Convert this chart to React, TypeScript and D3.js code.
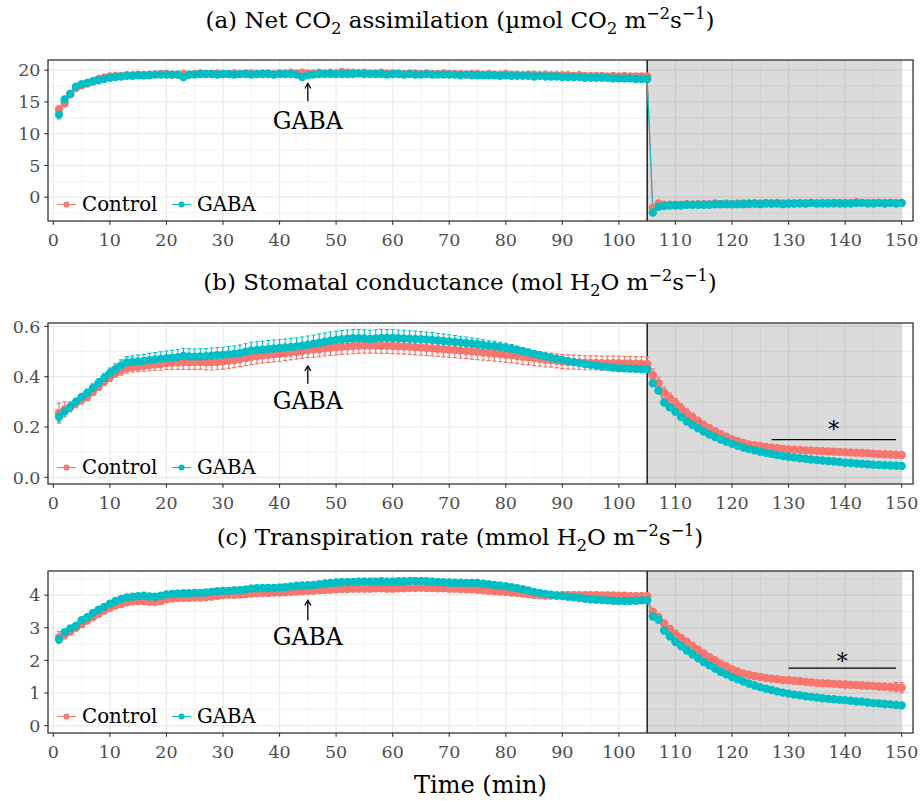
import React from "react";
import * as d3 from "d3";

// ---- time axis (minutes) ----
const minutes: number[] = d3.range(1, 151);
const xTicks = [0, 10, 20, 30, 40, 50, 60, 70, 80, 90, 100, 110, 120, 130, 140, 150];
const groups = ["Control", "GABA"];
const groupColors = ["#F8766D", "#00BFC4"];
const darkStart = 105;
const darkEnd = 150;
const gabaTime = 45;

// ---- (a) net CO2 assimilation ----
const co2Control = [
  13.8, 14.8, 16.2, 17.2, 17.6, 17.9, 18.3, 18.6, 18.8, 19.0,
  19.1, 19.1, 19.2, 19.2, 19.3, 19.2, 19.3, 19.3, 19.4, 19.4,
  19.3, 19.3, 19.4, 19.3, 19.4, 19.5, 19.4, 19.4, 19.5, 19.4,
  19.4, 19.5, 19.4, 19.5, 19.5, 19.4, 19.5, 19.5, 19.4, 19.5,
  19.5, 19.6, 19.5, 19.6, 19.5, 19.5, 19.6, 19.5, 19.6, 19.5,
  19.7, 19.6, 19.6, 19.5, 19.6, 19.5, 19.5, 19.6, 19.5, 19.5,
  19.5, 19.4, 19.5, 19.5, 19.4, 19.5, 19.4, 19.4, 19.5, 19.4,
  19.4, 19.4, 19.3, 19.4, 19.4, 19.3, 19.4, 19.3, 19.3, 19.4,
  19.3, 19.3, 19.2, 19.3, 19.3, 19.2, 19.3, 19.2, 19.2, 19.2,
  19.2, 19.1, 19.2, 19.1, 19.1, 19.1, 19.1, 19.0, 19.1, 19.0,
  19.1, 19.0, 19.0, 19.0, 19.0, -1.6, -1.0, -1.2, -1.2, -1.2,
  -1.2, -1.1, -1.2, -1.1, -1.1, -1.1, -1.0, -1.1, -1.0, -1.1,
  -1.0, -1.0, -1.1, -1.0, -1.0, -0.9, -1.0, -0.9, -1.0, -1.0,
  -1.0, -0.9, -1.0, -0.9, -1.0, -0.9, -0.9, -1.0, -0.9, -0.9,
  -0.9, -0.8, -0.9, -0.9, -0.9, -0.9, -0.9, -0.9, -0.9, -0.9,
];
const co2ControlSe = [
  0.6, 0.5, 0.4, 0.35, 0.3, 0.3, 0.3, 0.3, 0.3, 0.3,
  0.3, 0.3, 0.3, 0.3, 0.3, 0.3, 0.3, 0.3, 0.3, 0.3,
  0.3, 0.3, 0.35, 0.3, 0.3, 0.3, 0.3, 0.3, 0.3, 0.3,
  0.3, 0.3, 0.3, 0.3, 0.3, 0.3, 0.3, 0.3, 0.3, 0.3,
  0.3, 0.3, 0.3, 0.3, 0.3, 0.3, 0.3, 0.3, 0.3, 0.3,
  0.35, 0.3, 0.3, 0.3, 0.3, 0.3, 0.3, 0.3, 0.3, 0.3,
  0.3, 0.3, 0.3, 0.3, 0.3, 0.3, 0.3, 0.3, 0.3, 0.3,
  0.3, 0.3, 0.3, 0.3, 0.3, 0.3, 0.3, 0.3, 0.3, 0.3,
  0.3, 0.3, 0.3, 0.3, 0.3, 0.3, 0.3, 0.3, 0.3, 0.3,
  0.3, 0.3, 0.3, 0.3, 0.3, 0.3, 0.3, 0.3, 0.3, 0.3,
  0.3, 0.3, 0.3, 0.3, 0.3, 0.3, 0.2, 0.2, 0.2, 0.2,
  0.2, 0.2, 0.2, 0.2, 0.2, 0.2, 0.2, 0.2, 0.2, 0.2,
  0.2, 0.2, 0.2, 0.2, 0.2, 0.2, 0.2, 0.2, 0.2, 0.2,
  0.2, 0.2, 0.2, 0.2, 0.2, 0.2, 0.2, 0.2, 0.2, 0.2,
  0.2, 0.2, 0.2, 0.2, 0.2, 0.2, 0.2, 0.2, 0.2, 0.2,
];
const co2Gaba = [
  13.0, 15.4, 16.3, 17.4, 17.8, 18.0, 18.2, 18.4, 18.6, 18.8,
  18.9, 19.0, 19.1, 19.1, 19.2, 19.2, 19.2, 19.3, 19.3, 19.3,
  19.3, 19.3, 18.9, 19.3, 19.3, 19.4, 19.4, 19.4, 19.3, 19.4,
  19.4, 19.3, 19.4, 19.4, 19.3, 19.4, 19.4, 19.4, 19.3, 19.4,
  19.4, 19.4, 19.3, 18.9, 19.2, 19.3, 19.4, 19.4, 19.4, 19.4,
  19.4, 19.4, 19.4, 19.5, 19.4, 19.4, 19.4, 19.4, 19.3, 19.4,
  19.4, 19.3, 19.4, 19.3, 19.3, 19.4, 19.3, 19.3, 19.3, 19.3,
  19.3, 19.2, 19.3, 19.2, 19.2, 19.2, 19.2, 19.2, 19.1, 19.2,
  19.1, 19.1, 19.1, 19.1, 19.0, 19.1, 19.0, 19.0, 19.0, 18.9,
  18.9, 18.9, 18.9, 18.8, 18.8, 18.8, 18.8, 18.8, 18.7, 18.7,
  18.7, 18.7, 18.6, 18.6, 18.6, -2.4, -1.5, -1.4, -1.3, -1.3,
  -1.3, -1.2, -1.2, -1.2, -1.2, -1.2, -1.1, -1.1, -1.1, -1.1,
  -1.1, -1.1, -1.0, -1.0, -1.1, -1.0, -1.0, -1.0, -1.1, -1.0,
  -1.0, -1.0, -1.0, -0.9, -1.0, -1.0, -1.0, -0.9, -1.0, -1.0,
  -1.0, -0.9, -0.9, -1.0, -1.0, -0.9, -1.0, -0.9, -1.0, -0.9,
];
const co2GabaSe = [
  0.7, 0.5, 0.4, 0.3, 0.3, 0.3, 0.25, 0.25, 0.25, 0.25,
  0.25, 0.25, 0.25, 0.25, 0.25, 0.25, 0.25, 0.25, 0.25, 0.25,
  0.25, 0.25, 0.3, 0.25, 0.25, 0.25, 0.25, 0.25, 0.25, 0.25,
  0.25, 0.25, 0.25, 0.25, 0.25, 0.25, 0.25, 0.25, 0.25, 0.25,
  0.25, 0.25, 0.25, 0.3, 0.25, 0.25, 0.25, 0.25, 0.25, 0.25,
  0.25, 0.25, 0.25, 0.25, 0.25, 0.25, 0.25, 0.25, 0.25, 0.25,
  0.25, 0.25, 0.25, 0.25, 0.25, 0.25, 0.25, 0.25, 0.25, 0.25,
  0.25, 0.25, 0.25, 0.25, 0.25, 0.25, 0.25, 0.25, 0.25, 0.25,
  0.25, 0.25, 0.25, 0.25, 0.25, 0.25, 0.25, 0.25, 0.25, 0.25,
  0.25, 0.25, 0.25, 0.25, 0.25, 0.25, 0.25, 0.25, 0.25, 0.25,
  0.25, 0.25, 0.25, 0.25, 0.25, 0.3, 0.2, 0.15, 0.15, 0.15,
  0.15, 0.15, 0.15, 0.15, 0.15, 0.15, 0.15, 0.15, 0.15, 0.15,
  0.15, 0.15, 0.15, 0.15, 0.15, 0.15, 0.15, 0.15, 0.15, 0.15,
  0.15, 0.15, 0.15, 0.15, 0.15, 0.15, 0.15, 0.15, 0.15, 0.15,
  0.15, 0.15, 0.15, 0.15, 0.15, 0.15, 0.15, 0.15, 0.15, 0.15,
];

// ---- (b) stomatal conductance ----
const gsControl = [
  0.255, 0.27, 0.28, 0.295, 0.308, 0.32, 0.34, 0.36, 0.38, 0.398,
  0.415, 0.425, 0.434, 0.438, 0.44, 0.443, 0.446, 0.448, 0.45, 0.454,
  0.455, 0.456, 0.457, 0.457, 0.458, 0.458, 0.457, 0.457, 0.458, 0.46,
  0.463, 0.466, 0.47, 0.474, 0.478, 0.481, 0.484, 0.487, 0.489, 0.491,
  0.494, 0.497, 0.5, 0.503, 0.506, 0.508, 0.51, 0.513, 0.515, 0.517,
  0.519, 0.52, 0.522, 0.523, 0.524, 0.524, 0.524, 0.523, 0.523, 0.522,
  0.521, 0.52, 0.519, 0.517, 0.516, 0.514, 0.513, 0.511, 0.509, 0.507,
  0.506, 0.504, 0.502, 0.5, 0.498, 0.496, 0.494, 0.492, 0.49, 0.487,
  0.485, 0.482, 0.479, 0.477, 0.474, 0.471, 0.468, 0.466, 0.463, 0.46,
  0.459, 0.458, 0.457, 0.456, 0.455, 0.455, 0.454, 0.454, 0.454, 0.454,
  0.453, 0.453, 0.452, 0.452, 0.451, 0.406, 0.374, 0.337, 0.315, 0.295,
  0.274, 0.255, 0.24, 0.224, 0.208, 0.195, 0.183, 0.171, 0.161, 0.151,
  0.144, 0.137, 0.131, 0.128, 0.125, 0.121, 0.118, 0.116, 0.113, 0.111,
  0.11, 0.109, 0.107, 0.106, 0.105, 0.104, 0.103, 0.102, 0.101, 0.1,
  0.099, 0.098, 0.097, 0.096, 0.094, 0.093, 0.092, 0.091, 0.09, 0.089,
];
const gsControlSe = [
  0.04, 0.03, 0.02, 0.018, 0.016, 0.015, 0.015, 0.015, 0.016, 0.017,
  0.018, 0.019, 0.02, 0.02, 0.02, 0.021, 0.022, 0.023, 0.024, 0.025,
  0.026, 0.027, 0.028, 0.028, 0.029, 0.029, 0.03, 0.03, 0.03, 0.03,
  0.03, 0.03, 0.03, 0.03, 0.03, 0.03, 0.03, 0.03, 0.03, 0.03,
  0.03, 0.03, 0.03, 0.03, 0.03, 0.03, 0.03, 0.03, 0.03, 0.03,
  0.03, 0.03, 0.03, 0.03, 0.03, 0.03, 0.03, 0.03, 0.03, 0.03,
  0.03, 0.03, 0.03, 0.03, 0.03, 0.03, 0.03, 0.03, 0.03, 0.03,
  0.03, 0.03, 0.03, 0.03, 0.03, 0.03, 0.03, 0.03, 0.03, 0.03,
  0.03, 0.03, 0.03, 0.03, 0.03, 0.029, 0.029, 0.028, 0.028, 0.028,
  0.028, 0.028, 0.028, 0.028, 0.028, 0.028, 0.028, 0.028, 0.028, 0.028,
  0.028, 0.028, 0.028, 0.028, 0.028, 0.025, 0.024, 0.022, 0.02, 0.019,
  0.018, 0.017, 0.016, 0.015, 0.015, 0.014, 0.013, 0.012, 0.012, 0.011,
  0.011, 0.01, 0.01, 0.01, 0.009, 0.009, 0.009, 0.009, 0.008, 0.008,
  0.008, 0.008, 0.008, 0.008, 0.008, 0.008, 0.008, 0.008, 0.008, 0.008,
  0.008, 0.008, 0.008, 0.008, 0.008, 0.008, 0.008, 0.008, 0.009, 0.01,
];
const gsGaba = [
  0.241, 0.262, 0.28, 0.3, 0.319, 0.335, 0.355, 0.375, 0.395, 0.414,
  0.43, 0.445, 0.457, 0.459, 0.461, 0.463, 0.466, 0.469, 0.471, 0.474,
  0.476, 0.478, 0.483, 0.481, 0.48, 0.481, 0.482, 0.484, 0.486, 0.487,
  0.489, 0.491, 0.494, 0.499, 0.504, 0.506, 0.508, 0.51, 0.512, 0.514,
  0.516, 0.518, 0.52, 0.523, 0.527, 0.531, 0.535, 0.539, 0.543, 0.546,
  0.549, 0.551, 0.553, 0.553, 0.552, 0.55, 0.552, 0.554, 0.554, 0.554,
  0.553, 0.552, 0.551, 0.55, 0.549, 0.548, 0.546, 0.544, 0.542, 0.54,
  0.538, 0.536, 0.534, 0.531, 0.529, 0.526, 0.523, 0.521, 0.518, 0.515,
  0.511, 0.506, 0.501, 0.496, 0.491, 0.486, 0.481, 0.476, 0.471, 0.467,
  0.462, 0.458, 0.454, 0.45, 0.447, 0.444, 0.441, 0.439, 0.436, 0.434,
  0.433, 0.432, 0.431, 0.43, 0.43, 0.374, 0.345, 0.297, 0.278, 0.261,
  0.24, 0.222, 0.208, 0.195, 0.182, 0.17, 0.16, 0.15, 0.141, 0.133,
  0.125, 0.118, 0.112, 0.107, 0.102, 0.097, 0.093, 0.089, 0.085, 0.082,
  0.079, 0.076, 0.074, 0.071, 0.069, 0.067, 0.065, 0.063, 0.061, 0.058,
  0.057, 0.055, 0.054, 0.052, 0.05, 0.049, 0.048, 0.047, 0.046, 0.045,
];
const gsGabaSe = [
  0.02, 0.018, 0.016, 0.015, 0.015, 0.016, 0.017, 0.018, 0.019, 0.02,
  0.021, 0.022, 0.023, 0.024, 0.025, 0.026, 0.027, 0.027, 0.028, 0.028,
  0.029, 0.029, 0.03, 0.03, 0.03, 0.03, 0.03, 0.03, 0.03, 0.03,
  0.031, 0.031, 0.032, 0.032, 0.033, 0.033, 0.033, 0.034, 0.034, 0.034,
  0.034, 0.035, 0.035, 0.035, 0.035, 0.035, 0.035, 0.035, 0.035, 0.035,
  0.035, 0.035, 0.035, 0.035, 0.035, 0.035, 0.035, 0.035, 0.034, 0.034,
  0.033, 0.033, 0.032, 0.032, 0.031, 0.03, 0.03, 0.029, 0.028, 0.027,
  0.026, 0.025, 0.024, 0.023, 0.022, 0.021, 0.02, 0.02, 0.019, 0.018,
  0.017, 0.016, 0.015, 0.014, 0.013, 0.012, 0.012, 0.011, 0.011, 0.01,
  0.01, 0.01, 0.01, 0.01, 0.01, 0.01, 0.01, 0.01, 0.01, 0.01,
  0.01, 0.01, 0.01, 0.01, 0.01, 0.012, 0.012, 0.012, 0.012, 0.012,
  0.011, 0.011, 0.01, 0.01, 0.01, 0.009, 0.009, 0.008, 0.008, 0.008,
  0.007, 0.007, 0.007, 0.006, 0.006, 0.006, 0.006, 0.006, 0.006, 0.006,
  0.005, 0.005, 0.005, 0.005, 0.005, 0.005, 0.005, 0.005, 0.005, 0.005,
  0.005, 0.005, 0.005, 0.005, 0.005, 0.005, 0.005, 0.005, 0.005, 0.005,
];

// ---- (c) transpiration rate ----
const eControl = [
  2.7, 2.78, 2.88, 3.0, 3.11, 3.22, 3.33, 3.43, 3.53, 3.61,
  3.68, 3.73, 3.78, 3.81, 3.82, 3.82, 3.8, 3.79, 3.82, 3.87,
  3.9, 3.91, 3.92, 3.92, 3.93, 3.93, 3.94, 3.96, 3.98, 4.0,
  4.01, 4.01, 4.02, 4.03, 4.05, 4.06, 4.07, 4.07, 4.08, 4.08,
  4.09, 4.1, 4.11, 4.12, 4.13, 4.14, 4.15, 4.16, 4.17, 4.18,
  4.19, 4.19, 4.2, 4.2, 4.2, 4.2, 4.21, 4.21, 4.2, 4.2,
  4.21, 4.21, 4.22, 4.22, 4.23, 4.22, 4.22, 4.21, 4.21, 4.2,
  4.2, 4.19, 4.18, 4.18, 4.17, 4.15, 4.14, 4.12, 4.11, 4.1,
  4.08, 4.07, 4.05, 4.03, 4.01, 4.0, 3.99, 3.99, 3.99, 4.0,
  4.0, 4.0, 4.0, 4.0, 4.0, 4.0, 3.99, 3.99, 3.99, 3.98,
  3.98, 3.97, 3.97, 3.97, 3.97, 3.49, 3.33, 3.13, 2.96, 2.82,
  2.69, 2.57, 2.45, 2.33, 2.21, 2.1, 2.0, 1.9, 1.81, 1.72,
  1.66, 1.6, 1.56, 1.52, 1.49, 1.46, 1.44, 1.42, 1.4, 1.39,
  1.37, 1.36, 1.34, 1.33, 1.31, 1.3, 1.29, 1.28, 1.27, 1.26,
  1.25, 1.24, 1.23, 1.22, 1.21, 1.2, 1.19, 1.18, 1.18, 1.17,
];
const eControlSe = [
  0.18, 0.12, 0.09, 0.09, 0.09, 0.09, 0.09, 0.09, 0.09, 0.09,
  0.09, 0.09, 0.09, 0.09, 0.09, 0.09, 0.09, 0.09, 0.09, 0.09,
  0.1, 0.1, 0.1, 0.1, 0.1, 0.1, 0.1, 0.1, 0.1, 0.1,
  0.1, 0.1, 0.1, 0.1, 0.1, 0.1, 0.1, 0.1, 0.1, 0.1,
  0.1, 0.1, 0.1, 0.1, 0.1, 0.1, 0.1, 0.1, 0.1, 0.1,
  0.1, 0.1, 0.1, 0.1, 0.1, 0.1, 0.1, 0.1, 0.1, 0.1,
  0.1, 0.1, 0.1, 0.1, 0.1, 0.1, 0.1, 0.1, 0.1, 0.1,
  0.1, 0.1, 0.1, 0.1, 0.1, 0.1, 0.1, 0.1, 0.1, 0.1,
  0.1, 0.1, 0.1, 0.1, 0.1, 0.1, 0.1, 0.1, 0.1, 0.1,
  0.1, 0.1, 0.1, 0.1, 0.1, 0.1, 0.1, 0.1, 0.1, 0.1,
  0.1, 0.1, 0.1, 0.1, 0.1, 0.1, 0.1, 0.1, 0.1, 0.1,
  0.1, 0.1, 0.1, 0.1, 0.1, 0.1, 0.1, 0.1, 0.1, 0.1,
  0.09, 0.09, 0.09, 0.09, 0.09, 0.09, 0.09, 0.09, 0.09, 0.09,
  0.09, 0.09, 0.09, 0.09, 0.09, 0.09, 0.09, 0.09, 0.09, 0.1,
  0.1, 0.1, 0.1, 0.1, 0.1, 0.1, 0.11, 0.12, 0.14, 0.16,
];
const eGaba = [
  2.65, 2.86, 2.98, 3.06, 3.23, 3.32, 3.45, 3.55, 3.64, 3.74,
  3.82, 3.88, 3.93, 3.95, 3.97, 3.98, 3.96, 3.95, 3.98, 4.02,
  4.04, 4.05, 4.06, 4.06, 4.07, 4.07, 4.08, 4.1, 4.12, 4.13,
  4.13, 4.14, 4.15, 4.17, 4.2, 4.21, 4.22, 4.22, 4.22, 4.23,
  4.24, 4.26, 4.28, 4.29, 4.3, 4.31, 4.33, 4.35, 4.37, 4.38,
  4.39, 4.4, 4.4, 4.41, 4.41, 4.41, 4.41, 4.42, 4.41, 4.41,
  4.42, 4.42, 4.43, 4.43, 4.43, 4.42, 4.41, 4.4, 4.39, 4.38,
  4.38, 4.38, 4.37, 4.37, 4.37, 4.35, 4.33, 4.31, 4.29, 4.27,
  4.24, 4.21, 4.18, 4.14, 4.1, 4.07, 4.04, 4.01, 3.99, 3.97,
  3.95, 3.93, 3.91, 3.89, 3.87, 3.86, 3.85, 3.84, 3.83, 3.82,
  3.82, 3.82, 3.83, 3.84, 3.84, 3.35, 3.25, 2.92, 2.74, 2.57,
  2.44, 2.31, 2.19, 2.07, 1.95, 1.85, 1.75, 1.65, 1.57, 1.49,
  1.42, 1.35, 1.29, 1.23, 1.18, 1.13, 1.09, 1.05, 1.01, 0.98,
  0.95, 0.93, 0.9, 0.88, 0.86, 0.84, 0.82, 0.81, 0.79, 0.78,
  0.76, 0.74, 0.73, 0.71, 0.69, 0.68, 0.66, 0.65, 0.63, 0.62,
];
const eGabaSe = [
  0.1, 0.08, 0.07, 0.07, 0.07, 0.07, 0.07, 0.07, 0.07, 0.07,
  0.08, 0.08, 0.08, 0.08, 0.08, 0.08, 0.08, 0.08, 0.08, 0.08,
  0.09, 0.09, 0.09, 0.09, 0.09, 0.09, 0.09, 0.09, 0.09, 0.09,
  0.1, 0.1, 0.1, 0.1, 0.1, 0.1, 0.1, 0.1, 0.1, 0.1,
  0.11, 0.11, 0.11, 0.11, 0.11, 0.11, 0.11, 0.11, 0.11, 0.11,
  0.11, 0.11, 0.11, 0.11, 0.11, 0.11, 0.11, 0.11, 0.11, 0.11,
  0.11, 0.11, 0.11, 0.11, 0.11, 0.11, 0.11, 0.11, 0.11, 0.11,
  0.1, 0.1, 0.1, 0.1, 0.1, 0.1, 0.1, 0.1, 0.1, 0.1,
  0.09, 0.09, 0.08, 0.08, 0.07, 0.07, 0.07, 0.06, 0.06, 0.06,
  0.06, 0.06, 0.06, 0.06, 0.06, 0.06, 0.06, 0.06, 0.06, 0.06,
  0.06, 0.06, 0.06, 0.06, 0.06, 0.1, 0.1, 0.11, 0.11, 0.11,
  0.11, 0.11, 0.11, 0.11, 0.1, 0.1, 0.1, 0.1, 0.09, 0.09,
  0.08, 0.08, 0.07, 0.07, 0.06, 0.06, 0.05, 0.05, 0.05, 0.05,
  0.04, 0.04, 0.04, 0.04, 0.04, 0.04, 0.04, 0.04, 0.04, 0.04,
  0.04, 0.04, 0.04, 0.04, 0.04, 0.04, 0.04, 0.04, 0.04, 0.04,
];

// ---- layout ----
const W = 920;
const H = 801;
const FONT = "'DejaVu Serif', 'Liberation Serif', serif";
const plotLeft = 48;
const plotRight = 913;
const xDomain: [number, number] = [-0.94, 152];

type Part = { t: string; k?: "sub" | "sup" };

type PanelSpec = {
  title: Part[];
  titleY: number;
  top: number;
  bottom: number;
  yDomain: [number, number];
  yTicks: number[];
  yMinor: number[];
  yFormat: (v: number) => string;
  control: number[];
  controlSe: number[];
  gaba: number[];
  gabaSe: number[];
  arrow: { head: number; tail: number; label: number };
  star?: { x1: number; x2: number; y: number; starY: number };
};

const panels: PanelSpec[] = [
  {
    title: [
      { t: "(a) Net CO" }, { t: "2", k: "sub" }, { t: " assimilation (µmol CO" }, { t: "2", k: "sub" },
      { t: " m" }, { t: "−2", k: "sup" }, { t: "s" }, { t: "−1", k: "sup" }, { t: ")" },
    ],
    titleY: 28,
    top: 60,
    bottom: 221,
    yDomain: [-3.75, 21.6],
    yTicks: [0, 5, 10, 15, 20],
    yMinor: [-2.5, 2.5, 7.5, 12.5, 17.5],
    yFormat: (v) => String(v),
    control: co2Control,
    controlSe: co2ControlSe,
    gaba: co2Gaba,
    gabaSe: co2GabaSe,
    arrow: { head: 17.9, tail: 15.1, label: 12.1 },
  },
  {
    title: [
      { t: "(b) Stomatal conductance (mol H" }, { t: "2", k: "sub" }, { t: "O m" },
      { t: "−2", k: "sup" }, { t: "s" }, { t: "−1", k: "sup" }, { t: ")" },
    ],
    titleY: 290,
    top: 323,
    bottom: 484,
    yDomain: [-0.0266, 0.6136],
    yTicks: [0, 0.2, 0.4, 0.6],
    yMinor: [0.1, 0.3, 0.5],
    yFormat: (v) => v.toFixed(1),
    control: gsControl,
    controlSe: gsControlSe,
    gaba: gsGaba,
    gabaSe: gsGabaSe,
    arrow: { head: 0.443, tail: 0.372, label: 0.304 },
    star: { x1: 127, x2: 149, y: 0.15, starY: 0.215 },
  },
  {
    title: [
      { t: "(c) Transpiration rate (mmol H" }, { t: "2", k: "sub" }, { t: "O m" },
      { t: "−2", k: "sup" }, { t: "s" }, { t: "−1", k: "sup" }, { t: ")" },
    ],
    titleY: 545,
    top: 571,
    bottom: 733,
    yDomain: [-0.227, 4.74],
    yTicks: [0, 1, 2, 3, 4],
    yMinor: [0.5, 1.5, 2.5, 3.5, 4.5],
    yFormat: (v) => String(v),
    control: eControl,
    controlSe: eControlSe,
    gaba: eGaba,
    gabaSe: eGabaSe,
    arrow: { head: 3.84, tail: 3.23, label: 2.72 },
    star: { x1: 130, x2: 149, y: 1.76, starY: 2.16 },
  },
];

const x = d3.scaleLinear().domain(xDomain).range([plotLeft, plotRight]);
const xMinor = d3.range(5, 150, 10);

function RichTitle({ parts, y }: { parts: Part[]; y: number }) {
  const size = 23;
  let offset = 0;
  return (
    <text x={W / 2} y={y} textAnchor="middle" fontFamily={FONT} fontSize={size} fill="#000">
      {parts.map((p, i) => {
        const target = p.k === "sub" ? 5.5 : p.k === "sup" ? -9 : 0;
        const dy = target - offset;
        offset = target;
        return (
          <tspan key={i} dy={dy} fontSize={p.k ? size * 0.7 : size}>
            {p.t}
          </tspan>
        );
      })}
    </text>
  );
}

function Panel({ spec }: { spec: PanelSpec }) {
  const y = d3.scaleLinear().domain(spec.yDomain).range([spec.bottom, spec.top]);
  const series = [
    { values: spec.control, se: spec.controlSe, color: groupColors[0] },
    { values: spec.gaba, se: spec.gabaSe, color: groupColors[1] },
  ];
  const line = d3
    .line<number>()
    .x((_, i) => x(minutes[i]))
    .y((v) => y(v));
  const capHalf = x(0.38) - x(0);
  const legendY = spec.bottom - 16.5;
  const arrowX = x(gabaTime);
  const headY = y(spec.arrow.head);

  return (
    <g>
      <RichTitle parts={spec.title} y={spec.titleY} />
      {/* panel background and grid */}
      <rect x={plotLeft} y={spec.top} width={plotRight - plotLeft} height={spec.bottom - spec.top} fill="#fff" />
      {spec.yMinor.map((v) => (
        <line key={"ym" + v} x1={plotLeft} x2={plotRight} y1={y(v)} y2={y(v)} stroke="#EBEBEB" strokeWidth={0.6} />
      ))}
      {xMinor.map((v) => (
        <line key={"xm" + v} x1={x(v)} x2={x(v)} y1={spec.top} y2={spec.bottom} stroke="#EBEBEB" strokeWidth={0.6} />
      ))}
      {spec.yTicks.map((v) => (
        <line key={"yg" + v} x1={plotLeft} x2={plotRight} y1={y(v)} y2={y(v)} stroke="#EBEBEB" strokeWidth={1.2} />
      ))}
      {xTicks.map((v) => (
        <line key={"xg" + v} x1={x(v)} x2={x(v)} y1={spec.top} y2={spec.bottom} stroke="#EBEBEB" strokeWidth={1.2} />
      ))}
      {/* dark period */}
      <rect
        x={x(darkStart)}
        y={spec.top}
        width={x(darkEnd) - x(darkStart)}
        height={spec.bottom - spec.top}
        fill="#000"
        fillOpacity={0.14}
      />
      <line x1={x(darkStart)} x2={x(darkStart)} y1={spec.top} y2={spec.bottom} stroke="#000" strokeWidth={1.3} />
      {/* error bars */}
      {series.map((s, si) => (
        <path
          key={"eb" + si}
          d={s.values
            .map((v, i) => {
              const cx = x(minutes[i]);
              const y1 = y(v + s.se[i]);
              const y2 = y(v - s.se[i]);
              return `M${cx - capHalf},${y1}H${cx + capHalf}M${cx},${y1}V${y2}M${cx - capHalf},${y2}H${cx + capHalf}`;
            })
            .join("")}
          stroke={s.color}
          strokeWidth={1.1}
          fill="none"
        />
      ))}
      {series.map((s, si) => (
        <path key={"ln" + si} d={line(s.values) || ""} stroke={s.color} strokeWidth={1.1} fill="none" />
      ))}
      {series.map((s, si) => (
        <g key={"pt" + si} fill={s.color}>
          {s.values.map((v, i) => (
            <circle key={i} cx={x(minutes[i])} cy={y(v)} r={4.2} />
          ))}
        </g>
      ))}
      {/* GABA application marker */}
      <g stroke="#000" strokeWidth={1.3} fill="none">
        <line x1={arrowX} x2={arrowX} y1={y(spec.arrow.tail)} y2={headY} />
        <path d={`M${arrowX - 3},${headY + 5}L${arrowX},${headY}L${arrowX + 3},${headY + 5}`} />
      </g>
      <text
        x={arrowX}
        y={y(spec.arrow.label)}
        dy="0.36em"
        textAnchor="middle"
        fontFamily={FONT}
        fontSize={23.5}
        fill="#000"
      >
        GABA
      </text>
      {spec.star && (
        <g>
          <line
            x1={x(spec.star.x1)}
            x2={x(spec.star.x2)}
            y1={y(spec.star.y)}
            y2={y(spec.star.y)}
            stroke="#000"
            strokeWidth={1.3}
          />
          <text
            x={x((spec.star.x1 + spec.star.x2) / 2)}
            y={y(spec.star.starY)}
            dy="0.62em"
            textAnchor="middle"
            fontFamily={FONT}
            fontSize={22}
            fill="#000"
          >
            *
          </text>
        </g>
      )}
      {/* legend */}
      {groups.map((g, gi) => {
        const kx = gi === 0 ? 57 : 172;
        return (
          <g key={g}>
            <line x1={kx} x2={kx + 19} y1={legendY} y2={legendY} stroke={groupColors[gi]} strokeWidth={1.1} />
            <circle cx={kx + 9.5} cy={legendY} r={3} fill={groupColors[gi]} />
            <text x={kx + 25} y={legendY} dy="0.35em" fontFamily={FONT} fontSize={19.8} fill="#000">
              {g}
            </text>
          </g>
        );
      })}
      {/* border */}
      <rect
        x={plotLeft}
        y={spec.top}
        width={plotRight - plotLeft}
        height={spec.bottom - spec.top}
        fill="none"
        stroke="#333333"
        strokeWidth={1.3}
      />
      {/* axes */}
      {spec.yTicks.map((v) => (
        <g key={"yt" + v}>
          <line x1={plotLeft - 3.7} x2={plotLeft} y1={y(v)} y2={y(v)} stroke="#333333" strokeWidth={1.1} />
          <text
            x={plotLeft - 7.5}
            y={y(v)}
            dy="0.36em"
            textAnchor="end"
            fontFamily={FONT}
            fontSize={17.5}
            fill="#4D4D4D"
          >
            {spec.yFormat(v)}
          </text>
        </g>
      ))}
      {xTicks.map((v) => (
        <g key={"xt" + v}>
          <line x1={x(v)} x2={x(v)} y1={spec.bottom} y2={spec.bottom + 3.7} stroke="#333333" strokeWidth={1.1} />
          <text
            x={x(v)}
            y={spec.bottom + 25}
            textAnchor="middle"
            fontFamily={FONT}
            fontSize={17.5}
            fill="#4D4D4D"
          >
            {v}
          </text>
        </g>
      ))}
    </g>
  );
}

export default function App() {
  return (
    <svg
      width={W}
      height={H}
      viewBox={`0 0 ${W} ${H}`}
      style={{ position: "absolute", left: 0, top: 0, background: "#fff" }}
    >
      <rect width={W} height={H} fill="#fff" />
      {panels.map((p, i) => (
        <Panel key={i} spec={p} />
      ))}
      <text
        x={(plotLeft + plotRight) / 2}
        y={793}
        textAnchor="middle"
        fontFamily={FONT}
        fontSize={24}
        fill="#000"
      >
        Time (min)
      </text>
    </svg>
  );
}
